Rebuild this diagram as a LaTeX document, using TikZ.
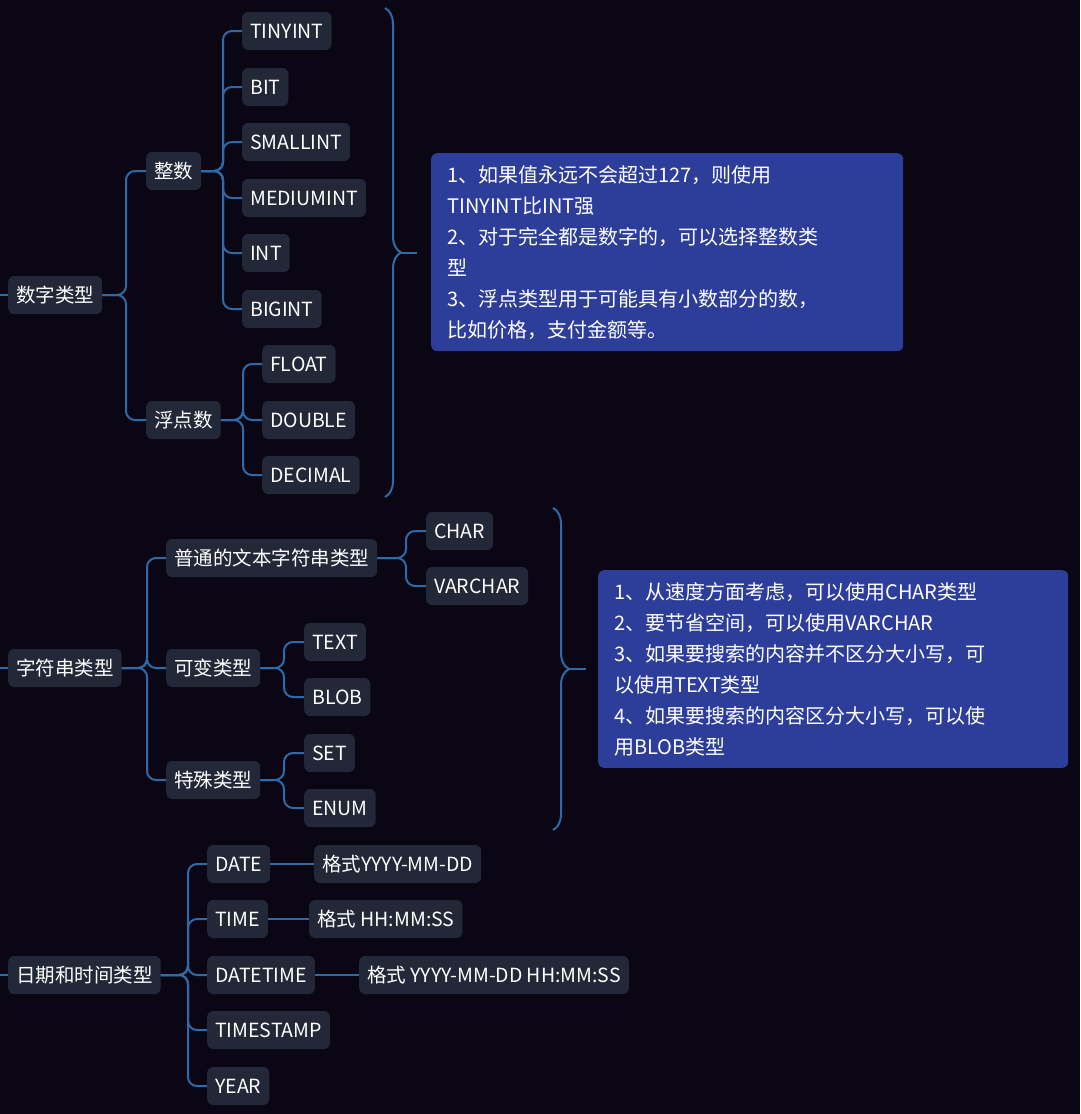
\documentclass[tikz,border=0pt]{standalone}
\usepackage{fontspec}
\setmainfont{Noto Sans CJK SC}
\usetikzlibrary{decorations.pathreplacing}
\definecolor{bgc}{HTML}{0A0614}
\definecolor{nodec}{HTML}{222838}
\definecolor{linec}{HTML}{2E6AA8}
\definecolor{boxc}{HTML}{2D3E9A}
\tikzset{
 nd/.style={fill=nodec,rounded corners=6pt,text=white,anchor=west,minimum height=38pt,inner xsep=8pt,font=\fontsize{19.5}{23}\selectfont},
 conn/.style={draw=linec,line width=2pt,rounded corners=9pt},
 brc/.style={draw=linec,line width=2pt,decorate,decoration={brace,amplitude=16pt}},
 note/.style={fill=boxc,rounded corners=6pt,text=white,anchor=north west,align=left,inner xsep=16pt,inner ysep=12pt,font=\fontsize{20}{31}\selectfont}
}
\newcommand\br[3]{\path (#3,0) coordinate (bx); \draw[conn] (#1.east) -- (#1.east -| bx) |- (#2.west);}
\begin{document}
\begin{tikzpicture}[x=1pt,y=-1pt]
\fill[bgc] (0,0) rectangle (1080,1114);
\useasboundingbox (0,0) rectangle (1080,1114);
% group 1
\node[nd] (r1) at (8,295) {数字类型};
\node[nd] (zs) at (146,171) {整数};
\node[nd] (fd) at (146,420) {浮点数};
\node[nd] (a1) at (242,31) {TINYINT};
\node[nd] (a2) at (242,87) {BIT};
\node[nd] (a3) at (242,142) {SMALLINT};
\node[nd] (a4) at (242,198) {MEDIUMINT};
\node[nd] (a5) at (242,253) {INT};
\node[nd] (a6) at (242,309) {BIGINT};
\node[nd] (b1) at (262,364) {FLOAT};
\node[nd] (b2) at (262,420) {DOUBLE};
\node[nd] (b3) at (262,475) {DECIMAL};
\coordinate (l1) at (0,295);
\draw[conn] (l1) -- (r1.west);
\br{r1}{zs}{126}\br{r1}{fd}{126}
\foreach \c in {a1,a2,a3,a4,a5,a6}{\br{zs}{\c}{223}}
\foreach \c in {b1,b2,b3}{\br{fd}{\c}{243}}
\coordinate (t1) at (385,8); \coordinate (t1b) at (385,497);
\draw[brc] (t1) -- (t1b);
\draw[conn] (401,253) -- (417,253);
\node[note,text width=440pt] (n1) at (431,153) {1、如果值永远不会超过127，则使用\\TINYINT比INT强\\2、对于完全都是数字的，可以选择整数类\\型\\3、浮点类型用于可能具有小数部分的数，\\比如价格，支付金额等。};
% group 2
\node[nd] (r2) at (8,668) {字符串类型};
\node[nd] (p1) at (166,558) {普通的文本字符串类型};
\node[nd] (p2) at (166,668) {可变类型};
\node[nd] (p3) at (166,780) {特殊类型};
\node[nd] (c1) at (426,531) {CHAR};
\node[nd] (c2) at (426,586) {VARCHAR};
\node[nd] (c3) at (304,642) {TEXT};
\node[nd] (c4) at (304,697) {BLOB};
\node[nd] (c5) at (304,753) {SET};
\node[nd] (c6) at (304,808) {ENUM};
\coordinate (l2) at (0,668);
\draw[conn] (l2) -- (r2.west);
\foreach \c in {p1,p2,p3}{\br{r2}{\c}{147}}
\br{p1}{c1}{406}\br{p1}{c2}{406}
\br{p2}{c3}{284}\br{p2}{c4}{284}
\br{p3}{c5}{284}\br{p3}{c6}{284}
\coordinate (t2) at (553,508); \coordinate (t2b) at (553,830);
\draw[brc] (t2) -- (t2b);
\draw[conn] (569,669) -- (586,669);
\node[note,text width=438pt] (n2) at (598,570) {1、从速度方面考虑，可以使用CHAR类型\\2、要节省空间，可以使用VARCHAR\\3、如果要搜索的内容并不区分大小写，可\\以使用TEXT类型\\4、如果要搜索的内容区分大小写，可以使\\用BLOB类型};
% group 3
\node[nd] (r3) at (8,975) {日期和时间类型};
\node[nd] (d1) at (207,864) {DATE};
\node[nd] (d2) at (207,919) {TIME};
\node[nd] (d3) at (207,975) {DATETIME};
\node[nd] (d4) at (207,1030) {TIMESTAMP};
\node[nd] (d5) at (207,1086) {YEAR};
\node[nd] (f1) at (314,864) {格式YYYY-MM-DD};
\node[nd] (f2) at (309,919) {格式 HH:MM:SS};
\node[nd] (f3) at (359,975) {格式 YYYY-MM-DD HH:MM:SS};
\coordinate (l3) at (0,975);
\draw[conn] (l3) -- (r3.west);
\foreach \c in {d1,d2,d3,d4,d5}{\br{r3}{\c}{188}}
\draw[conn] (d1.east) -- (f1.west);
\draw[conn] (d2.east) -- (f2.west);
\draw[conn] (d3.east) -- (f3.west);
\end{tikzpicture}
\end{document}
